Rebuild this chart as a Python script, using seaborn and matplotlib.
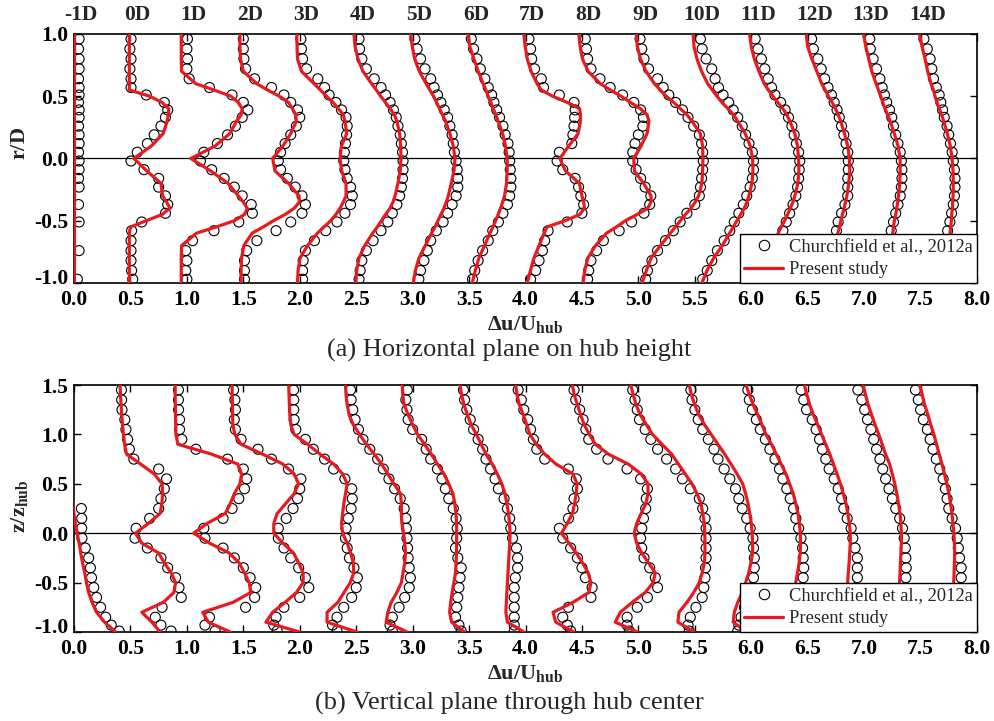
import numpy as np
import pandas as pd
import matplotlib
matplotlib.use("Agg")
import matplotlib.pyplot as plt
import matplotlib.transforms as mtransforms
from matplotlib.lines import Line2D
import seaborn as sns

nan = np.nan

# downstream stations and the plotting offset of each profile
stations = ['-1D', '0D', '1D', '2D', '3D', '4D', '5D', '6D', '7D',
            '8D', '9D', '10D', '11D', '12D', '13D', '14D']
offsets = [0.0, 0.5, 1.0, 1.5, 2.0, 2.5, 3.0, 3.5, 4.0,
           4.5, 5.0, 5.5, 6.0, 6.5, 7.0, 7.5]

# (a) horizontal plane, present study (lines)
a_line_r = [1.0, 0.9, 0.8, 0.7, 0.6, 0.55, 0.5, 0.45, 0.4, 0.35, 0.3, 0.2, 0.1, 0.0,
            -0.1, -0.2, -0.3, -0.35, -0.4, -0.45, -0.5, -0.55, -0.6, -0.7, -0.8, -0.9, -1.0]
a_line_du = [
    [0.0] * 27,
    [-0.01, -0.01, -0.01, -0.01, -0.01, -0.01, 0.17, 0.28, 0.34, 0.335, 0.325, 0.29, 0.185, 0.03,
     0.145, 0.27, 0.285, 0.32, 0.35, 0.28, 0.14, 0.0, -0.01, -0.01, -0.01, -0.01, -0.01],
    [-0.05, -0.05, -0.05, -0.047, 0.08, 0.24, 0.39, 0.455, 0.49, 0.48, 0.44, 0.38, 0.25, 0.035,
     0.21, 0.365, 0.455, 0.5, 0.535, 0.51, 0.42, 0.26, 0.085, -0.047, -0.05, -0.05, -0.05],
    [-0.03, -0.03, -0.025, 0.0, 0.12, 0.215, 0.32, 0.40, 0.435, 0.465, 0.47, 0.42, 0.35, 0.26,
     0.28, 0.40, 0.494, 0.497, 0.45, 0.37, 0.267, 0.176, 0.078, 0.004, -0.016, -0.02, -0.02],
    [-0.027, -0.024, -0.02, 0.015, 0.127, 0.183, 0.236, 0.295, 0.342, 0.386, 0.40, 0.416, 0.369, 0.357,
     0.372, 0.41, 0.41, 0.386, 0.357, 0.32, 0.274, 0.215, 0.156, 0.068, 0.003, -0.015, -0.02],
    [-0.02, -0.01, 0.016, 0.06, 0.137, 0.178, 0.217, 0.26, 0.30, 0.34, 0.36, 0.385, 0.394, 0.397,
     0.39, 0.37, 0.344, 0.326, 0.30, 0.26, 0.223, 0.187, 0.146, 0.075, 0.025, 0.004, -0.005],
    [-0.018, -0.003, 0.018, 0.059, 0.12, 0.153, 0.186, 0.212, 0.239, 0.265, 0.292, 0.33, 0.36, 0.375,
     0.366, 0.342, 0.316, 0.298, 0.277, 0.25, 0.224, 0.198, 0.168, 0.112, 0.056, 0.024, 0.006],
    [-0.01, 0.007, 0.043, 0.081, 0.125, 0.149, 0.17, 0.193, 0.214, 0.237, 0.258, 0.297, 0.323, 0.338,
     0.338, 0.332, 0.314, 0.297, 0.279, 0.258, 0.235, 0.211, 0.185, 0.137, 0.087, 0.055, 0.028],
    [-0.015, -0.003, 0.015, 0.05, 0.103, 0.14, 0.24, 0.37, 0.48, 0.487, 0.487, 0.466, 0.383, 0.304,
     0.354, 0.478, 0.50, 0.516, 0.522, 0.48, 0.35, 0.19, 0.165, 0.12, 0.074, 0.044, 0.015],
    [-0.028, -0.016, 0.004, 0.055, 0.164, 0.252, 0.347, 0.43, 0.518, 0.577, 0.594, 0.577, 0.524, 0.459,
     0.465, 0.547, 0.612, 0.612, 0.583, 0.488, 0.385, 0.305, 0.217, 0.12, 0.052, 0.025, 0.01],
    [-0.018, -0.009, 0.018, 0.068, 0.142, 0.195, 0.245, 0.313, 0.372, 0.431, 0.475, 0.549, 0.569, 0.572,
     0.569, 0.563, 0.534, 0.504, 0.466, 0.416, 0.372, 0.327, 0.283, 0.195, 0.112, 0.071, 0.032],
    [-0.016, -0.007, 0.019, 0.06, 0.114, 0.155, 0.196, 0.24, 0.294, 0.344, 0.379, 0.447, 0.491, 0.512,
     0.515, 0.506, 0.479, 0.462, 0.438, 0.406, 0.373, 0.341, 0.308, 0.243, 0.167, 0.108, 0.063],
    [-0.015, 0.0, 0.027, 0.068, 0.115, 0.153, 0.192, 0.236, 0.28, 0.316, 0.342, 0.386, 0.41, 0.419,
     0.422, 0.413, 0.386, 0.369, 0.345, 0.322, 0.295, 0.265, 0.239, 0.198, 0.162, 0.139, 0.115],
    [-0.013, 0.0, 0.037, 0.081, 0.125, 0.155, 0.184, 0.217, 0.246, 0.27, 0.293, 0.326, 0.355, 0.37,
     0.373, 0.364, 0.347, 0.335, 0.323, 0.308, 0.293, 0.282, 0.267, 0.24, 0.214, 0.193, 0.17],
    [-0.006, 0.015, 0.041, 0.068, 0.106, 0.127, 0.147, 0.165, 0.186, 0.209, 0.23, 0.268, 0.301, 0.319,
     0.319, 0.316, 0.304, 0.298, 0.289, 0.28, 0.268, 0.26, 0.254, 0.236, 0.218, 0.2, 0.186],
    [-0.01, 0.013, 0.04, 0.063, 0.093, 0.114, 0.128, 0.146, 0.167, 0.187, 0.205, 0.237, 0.264, 0.279,
     0.288, 0.29, 0.288, 0.285, 0.282, 0.276, 0.273, 0.267, 0.261, 0.252, 0.24, 0.232, 0.223],
]

# (a) horizontal plane, Churchfield et al. (circles)
a_mark_r = [0.96, 0.88, 0.80, 0.72, 0.64, 0.57, 0.51, 0.45, 0.39, 0.33, 0.26, 0.19, 0.12, 0.05,
            -0.02, -0.09, -0.16, -0.23, -0.30, -0.37, -0.44, -0.51, -0.58, -0.66, -0.74, -0.82, -0.90, -0.97]
a_mark_du = [
    [0.045, 0.04, 0.045, 0.045, 0.04, 0.045, 0.045, 0.04, 0.045, 0.045, 0.04, 0.045, 0.045, 0.04,
     0.045, 0.045, 0.04, 0.045, nan, 0.04, nan, 0.045, nan, nan, 0.045, nan, nan, 0.03],
    [0.005, -0.005, 0.005, -0.005, 0.005, 0.005, 0.14, 0.30, 0.33, 0.31, 0.27, 0.21, 0.15, 0.06,
     0.005, 0.12, 0.25, 0.25, 0.31, 0.33, 0.31, 0.10, 0.01, 0.005, 0.005, 0.005, 0.01, 0.02],
    [0.005, 0.0, 0.005, 0.0, 0.02, 0.2, 0.40, 0.50, 0.54, 0.49, 0.43, 0.36, 0.27, 0.15,
     0.12, 0.22, 0.33, 0.42, 0.49, 0.57, 0.58, 0.46, 0.24, 0.05, -0.01, 0.0, -0.01, 0.0],
    [0.0, 0.0, 0.005, 0.02, 0.10, 0.25, 0.36, 0.42, 0.48, 0.50, 0.47, 0.42, 0.37, 0.33,
     0.31, 0.33, 0.39, 0.46, 0.52, 0.55, 0.52, 0.42, 0.29, 0.12, 0.03, 0.01, 0.01, 0.01],
    [0.01, 0.015, 0.025, 0.06, 0.16, 0.22, 0.26, 0.32, 0.37, 0.41, 0.42, 0.415, 0.405, 0.395,
     0.39, 0.40, 0.42, 0.45, 0.465, 0.45, 0.40, 0.33, 0.23, 0.13, 0.05, 0.03, 0.025, 0.025],
    [0.025, 0.03, 0.05, 0.09, 0.16, 0.22, 0.26, 0.30, 0.33, 0.355, 0.37, 0.39, 0.40, 0.41,
     0.415, 0.415, 0.41, 0.40, 0.385, 0.36, 0.32, 0.28, 0.22, 0.15, 0.09, 0.05, 0.035, 0.025],
    [0.02, 0.04, 0.07, 0.11, 0.16, 0.19, 0.22, 0.25, 0.28, 0.31, 0.33, 0.35, 0.36, 0.37,
     0.385, 0.395, 0.40, 0.40, 0.385, 0.35, 0.31, 0.27, 0.21, 0.16, 0.13, 0.10, 0.07, 0.055],
    [0.02, 0.04, 0.07, 0.10, 0.14, 0.17, 0.20, 0.22, 0.245, 0.27, 0.30, 0.32, 0.345, 0.355,
     0.36, 0.365, 0.37, 0.37, 0.36, 0.34, 0.30, 0.26, 0.21, 0.17, 0.12, 0.08, 0.05, 0.03],
    [0.03, 0.045, 0.055, 0.08, 0.14, 0.16, 0.30, 0.43, 0.44, 0.435, 0.43, 0.42, 0.41, 0.30,
     0.28, 0.33, 0.44, 0.47, 0.49, 0.515, 0.50, 0.37, 0.20, 0.17, 0.15, 0.12, 0.09, 0.045],
    [0.03, 0.04, 0.05, 0.08, 0.16, 0.25, 0.36, 0.46, 0.52, 0.545, 0.54, 0.50, 0.47, 0.45,
     0.45, 0.48, 0.52, 0.56, 0.61, 0.60, 0.55, 0.44, 0.33, 0.19, 0.13, 0.08, 0.06, 0.05],
    [0.015, 0.03, 0.05, 0.09, 0.17, 0.22, 0.27, 0.33, 0.39, 0.44, 0.49, 0.54, 0.56, 0.57,
     0.575, 0.57, 0.56, 0.55, 0.54, 0.50, 0.43, 0.37, 0.31, 0.24, 0.17, 0.12, 0.08, 0.065],
    [0.05, 0.065, 0.10, 0.15, 0.18, 0.21, 0.25, 0.30, 0.34, 0.38, 0.42, 0.45, 0.48, 0.51,
     0.52, 0.52, 0.51, 0.49, 0.46, 0.43, 0.39, 0.35, 0.31, 0.26, 0.20, 0.15, 0.11, 0.07],
    [0.035, 0.06, 0.09, 0.12, 0.15, 0.18, 0.21, 0.26, 0.30, 0.33, 0.36, 0.38, 0.40, 0.42,
     0.43, 0.425, 0.42, 0.41, 0.395, 0.37, 0.34, 0.31, 0.28, 0.25, 0.22, 0.19, 0.17, 0.15],
    [0.035, 0.05, 0.09, 0.12, 0.15, 0.18, 0.21, 0.235, 0.26, 0.28, 0.30, 0.32, 0.34, 0.355,
     0.36, 0.36, 0.355, 0.355, 0.355, 0.33, 0.30, 0.27, 0.255, 0.24, 0.22, 0.20, 0.19, 0.17],
    [0.05, 0.055, 0.08, 0.11, 0.14, 0.16, 0.18, 0.20, 0.225, 0.245, 0.26, 0.28, 0.30, 0.32,
     0.33, 0.335, 0.335, 0.33, 0.32, 0.30, 0.28, 0.26, 0.24, 0.23, 0.21, 0.20, 0.19, 0.18],
    [0.03, 0.06, 0.085, 0.10, 0.115, 0.14, 0.165, 0.18, 0.195, 0.21, 0.235, 0.25, 0.265, 0.28,
     0.29, 0.30, 0.305, 0.305, 0.30, 0.29, 0.275, 0.26, 0.24, 0.23, 0.22, 0.21, 0.20, 0.20],
]

# (b) vertical plane, present study (lines)
b_line_z = [1.5, 1.4, 1.3, 1.2, 1.1, 1.0, 0.9, 0.8, 0.7, 0.6, 0.5, 0.4, 0.3, 0.2, 0.1, 0.0,
            -0.1, -0.2, -0.3, -0.4, -0.5, -0.6, -0.7, -0.8, -0.9, -1.0]
b_line_du = [
    [-0.12, -0.115, -0.11, -0.10, -0.09, -0.08, -0.07, -0.06, -0.05, -0.04, -0.03, -0.02, -0.01, 0.0, 0.012, 0.028,
     0.045, 0.06, 0.075, 0.095, 0.11, 0.13, 0.16, 0.2, 0.27, 0.37],
    [-0.092, -0.088, -0.083, -0.078, -0.07, -0.062, -0.052, -0.035, 0.09, 0.21, 0.28, 0.285, 0.278, 0.263, 0.16, 0.045,
     0.10, 0.25, 0.30, 0.36, 0.40, 0.385, 0.29, 0.10, 0.19, 0.263],
    [-0.104, -0.104, -0.103, -0.101, -0.099, -0.097, -0.08, 0.22, 0.45, 0.485, 0.47, 0.42, 0.385, 0.34, 0.18, 0.06,
     0.2, 0.374, 0.463, 0.51, 0.552, 0.565, 0.408, 0.14, 0.19, 0.384],
    [-0.10, -0.098, -0.096, -0.095, -0.093, -0.075, -0.02, 0.17, 0.35, 0.45, 0.49, 0.45, 0.375, 0.30, 0.27, 0.27,
     0.35, 0.445, 0.49, 0.53, 0.53, 0.47, 0.37, 0.26, 0.20, 0.50],
    [-0.098, -0.095, -0.092, -0.088, -0.08, -0.05, 0.07, 0.18, 0.30, 0.38, 0.42, 0.405, 0.39, 0.38, 0.37, 0.38,
     0.42, 0.45, 0.475, 0.478, 0.447, 0.392, 0.337, 0.242, 0.242, 0.508],
    [-0.095, -0.09, -0.08, -0.063, -0.027, 0.03, 0.09, 0.16, 0.225, 0.28, 0.334, 0.393, 0.40, 0.40, 0.405, 0.42,
     0.43, 0.437, 0.43, 0.415, 0.40, 0.36, 0.31, 0.28, 0.265, 0.452],
    [-0.092, -0.088, -0.075, -0.04, 0.0, 0.044, 0.105, 0.165, 0.22, 0.278, 0.32, 0.357, 0.374, 0.383, 0.39, 0.39,
     0.39, 0.388, 0.385, 0.38, 0.365, 0.35, 0.337, 0.328, 0.345, 0.46],
    [-0.08, -0.066, -0.045, -0.015, 0.018, 0.065, 0.108, 0.15, 0.205, 0.25, 0.29, 0.318, 0.335, 0.35, 0.358, 0.364,
     0.36, 0.355, 0.35, 0.345, 0.34, 0.335, 0.33, 0.326, 0.34, 0.487],
    [-0.087, -0.075, -0.054, -0.02, 0.01, 0.04, 0.095, 0.17, 0.27, 0.42, 0.457, 0.448, 0.435, 0.416, 0.37, 0.318,
     0.385, 0.45, 0.505, 0.555, 0.58, 0.56, 0.42, 0.244, 0.268, 0.43],
    [-0.085, -0.068, -0.04, -0.012, 0.02, 0.065, 0.12, 0.235, 0.41, 0.525, 0.585, 0.585, 0.566, 0.525, 0.485, 0.463,
     0.485, 0.53, 0.59, 0.65, 0.63, 0.56, 0.445, 0.34, 0.295, 0.493],
    [-0.067, -0.045, -0.02, 0.015, 0.07, 0.125, 0.21, 0.295, 0.355, 0.415, 0.475, 0.52, 0.555, 0.57, 0.584, 0.588,
     0.59, 0.59, 0.585, 0.565, 0.54, 0.49, 0.43, 0.36, 0.35, 0.495],
    [-0.049, -0.03, 0.0, 0.035, 0.085, 0.145, 0.205, 0.265, 0.32, 0.375, 0.424, 0.45, 0.472, 0.487, 0.50, 0.508,
     0.512, 0.512, 0.497, 0.478, 0.45, 0.42, 0.38, 0.35, 0.34, 0.46],
    [-0.046, -0.016, 0.018, 0.057, 0.094, 0.13, 0.18, 0.222, 0.265, 0.308, 0.34, 0.372, 0.395, 0.414, 0.426, 0.435,
     0.436, 0.434, 0.424, 0.41, 0.394, 0.375, 0.355, 0.335, 0.32, 0.33],
    [-0.029, -0.007, 0.018, 0.05, 0.088, 0.123, 0.16, 0.196, 0.228, 0.26, 0.29, 0.315, 0.34, 0.355, 0.37, 0.377,
     0.378, 0.372, 0.367, 0.36, 0.354, 0.348, 0.34, 0.33, 0.32, 0.31],
    [-0.011, 0.013, 0.036, 0.066, 0.096, 0.13, 0.16, 0.19, 0.226, 0.25, 0.272, 0.29, 0.305, 0.318, 0.326, 0.33,
     0.33, 0.326, 0.322, 0.318, 0.314, 0.31, 0.305, 0.30, 0.295, 0.29],
    [-0.008, 0.015, 0.036, 0.065, 0.09, 0.118, 0.142, 0.165, 0.19, 0.212, 0.232, 0.252, 0.266, 0.278, 0.287, 0.295,
     0.30, 0.302, 0.30, 0.297, 0.294, 0.29, 0.286, 0.282, 0.278, 0.275],
]

# (b) vertical plane, Churchfield et al. (circles)
b_mark_z = [1.45, 1.35, 1.25, 1.15, 1.05, 0.95, 0.85, 0.75, 0.65, 0.55, 0.45, 0.35, 0.25, 0.15, 0.05,
            -0.05, -0.15, -0.25, -0.35, -0.45, -0.55, -0.65, -0.75, -0.85, -0.93, -0.99]
b_mark_du = [
    [nan, nan, nan, nan, nan, nan, nan, nan, nan, nan, nan, nan, 0.065, 0.068, 0.068,
     0.07, 0.10, 0.13, 0.145, 0.155, 0.175, 0.20, 0.235, 0.28, 0.33, 0.40],
    [-0.08, -0.078, -0.075, -0.05, -0.04, -0.025, -0.01, 0.03, 0.25, 0.32, 0.30, 0.27, 0.25, 0.17, 0.05,
     0.04, 0.15, 0.27, 0.33, 0.40, 0.43, 0.45, 0.28, 0.22, 0.27, 0.36],
    [-0.075, -0.075, -0.074, -0.065, -0.065, -0.045, 0.08, 0.36, 0.50, 0.53, 0.51, 0.46, 0.40, 0.32, 0.15,
     0.16, 0.32, 0.42, 0.50, 0.56, 0.61, 0.60, 0.52, 0.20, 0.16, 0.25],
    [-0.086, -0.075, -0.07, -0.08, -0.07, -0.02, 0.13, 0.25, 0.40, 0.51, 0.50, 0.48, 0.44, 0.38, 0.31,
     0.31, 0.36, 0.42, 0.49, 0.55, 0.58, 0.50, 0.36, 0.29, 0.27, 0.30],
    [-0.055, -0.053, -0.053, -0.05, -0.035, 0.05, 0.12, 0.22, 0.30, 0.40, 0.46, 0.465, 0.455, 0.43, 0.41,
     0.405, 0.42, 0.44, 0.48, 0.51, 0.50, 0.46, 0.39, 0.33, 0.29, 0.33],
    [-0.05, -0.045, -0.03, -0.01, 0.02, 0.06, 0.12, 0.19, 0.24, 0.29, 0.34, 0.39, 0.425, 0.44, 0.445,
     0.45, 0.455, 0.46, 0.47, 0.48, 0.47, 0.43, 0.38, 0.32, 0.30, 0.32],
    [-0.047, -0.06, -0.05, -0.04, 0.0, 0.08, 0.12, 0.16, 0.22, 0.26, 0.29, 0.32, 0.36, 0.385, 0.395,
     0.39, 0.38, 0.40, 0.43, 0.42, 0.41, 0.40, 0.39, 0.38, 0.41, 0.43],
    [-0.05, -0.04, -0.02, 0.01, 0.04, 0.08, 0.12, 0.15, 0.19, 0.23, 0.26, 0.31, 0.34, 0.36, 0.37,
     0.385, 0.42, 0.43, 0.43, 0.41, 0.40, 0.40, 0.40, 0.40, 0.40, 0.40],
    [-0.065, -0.037, -0.015, 0.02, 0.045, 0.07, 0.10, 0.17, 0.38, 0.45, 0.46, 0.43, 0.42, 0.38, 0.30,
     0.33, 0.40, 0.46, 0.50, 0.53, 0.59, 0.58, 0.38, 0.33, 0.37, 0.40],
    [-0.07, -0.055, -0.02, 0.01, 0.035, 0.06, 0.13, 0.23, 0.40, 0.52, 0.58, 0.57, 0.565, 0.545, 0.53,
     0.52, 0.53, 0.55, 0.60, 0.65, 0.67, 0.58, 0.49, 0.40, 0.40, 0.42],
    [-0.05, -0.03, -0.01, 0.01, 0.06, 0.11, 0.17, 0.25, 0.33, 0.39, 0.46, 0.54, 0.57, 0.59, 0.60,
     0.60, 0.60, 0.60, 0.595, 0.59, 0.58, 0.565, 0.51, 0.46, 0.44, 0.45],
    [-0.035, -0.025, 0.0, 0.03, 0.07, 0.12, 0.17, 0.205, 0.26, 0.31, 0.36, 0.39, 0.42, 0.46, 0.49,
     0.515, 0.52, 0.527, 0.527, 0.52, 0.50, 0.47, 0.44, 0.41, 0.39, 0.38],
    [-0.03, -0.017, 0.01, 0.045, 0.08, 0.125, 0.165, 0.21, 0.25, 0.28, 0.315, 0.345, 0.375, 0.395, 0.42,
     0.44, 0.455, 0.46, 0.465, 0.46, 0.45, 0.43, 0.41, 0.39, 0.37, 0.36],
    [-0.058, -0.035, -0.01, 0.04, 0.075, 0.105, 0.13, 0.16, 0.19, 0.235, 0.27, 0.30, 0.32, 0.35, 0.385,
     0.40, 0.42, 0.44, 0.44, 0.44, 0.43, 0.42, 0.41, 0.40, 0.39, 0.38],
    [-0.055, -0.02, 0.005, 0.03, 0.06, 0.085, 0.11, 0.14, 0.165, 0.19, 0.22, 0.25, 0.28, 0.315, 0.34,
     0.355, 0.365, 0.37, 0.373, 0.37, 0.365, 0.36, 0.355, 0.35, 0.345, 0.34],
    [-0.045, -0.02, 0.0, 0.025, 0.06, 0.085, 0.11, 0.14, 0.17, 0.20, 0.22, 0.235, 0.25, 0.28, 0.31,
     0.325, 0.335, 0.345, 0.36, 0.36, 0.355, 0.35, 0.345, 0.34, 0.335, 0.33],
]

x_ticks = [0.0, 0.5, 1.0, 1.5, 2.0, 2.5, 3.0, 3.5, 4.0, 4.5, 5.0, 5.5, 6.0, 6.5, 7.0, 7.5, 8.0]
legend_labels = ['Churchfield et al., 2012a', 'Present study']

RED = '#e51b20'


def long_table(levels, deficits):
    """Stack the per-station profiles into one long frame (x = offset + deficit)."""
    rows = []
    for name, off, dus in zip(stations, offsets, deficits):
        for lev, du in zip(levels, dus):
            rows.append({'station': name, 'level': lev, 'x': off + du})
    return pd.DataFrame(rows).dropna()


def draw_panel(fig, ax, line_df, mark_df, yticks, ylabel, label_y):
    ax.axhline(0.0, color='black', lw=0.9, zorder=1)
    sns.scatterplot(data=mark_df, x='x', y='level', ax=ax, marker='o', s=52,
                    fc='none', ec='black', linewidth=0.8, legend=False, zorder=2)
    sns.lineplot(data=line_df, x='x', y='level', units='station', estimator=None,
                 sort=False, color=RED, linewidth=2.3, ax=ax, legend=False, zorder=3)

    ax.set_xlim(0, 8)
    ax.set_ylim(yticks[0], yticks[-1])
    ax.set_xticks(x_ticks)
    ax.set_xticklabels([f'{t:.1f}' for t in x_ticks], fontweight='bold')
    ax.set_yticks(yticks)
    ax.set_yticklabels([f'{t:.1f}' for t in yticks], fontweight='bold')
    ax.tick_params(direction='in', length=5, width=1, top=True, right=True,
                   labelsize=15.5, colors='black')
    ax.tick_params(axis='x', pad=5)
    ax.tick_params(axis='y', pad=4)
    # lift the bottom y label a little so it clears the first x label
    low = ax.get_yticklabels()[0]
    low.set_transform(low.get_transform()
                      + mtransforms.ScaledTranslation(0, 5 / 72, fig.dpi_scale_trans))
    for sp in ax.spines.values():
        sp.set_linewidth(1.2)
        sp.set_color('black')

    ax.set_xlabel(r'$\mathbf{\Delta u/U_{hub}}$', fontsize=16)
    ax.xaxis.set_label_coords(0.5, -0.125)
    ax.set_ylabel(ylabel, fontsize=16)
    ax.yaxis.set_label_coords(-0.049, label_y)

    handles = [Line2D([], [], marker='o', ls='none', mfc='none', mec='black', ms=7.5, mew=0.8),
               Line2D([], [], color=RED, lw=2.3)]
    leg = ax.legend(handles, legend_labels, loc='lower right', borderaxespad=0,
                    fancybox=False, edgecolor='black', framealpha=1, fontsize=13.3,
                    handlelength=2.1, handletextpad=0.3, labelspacing=0.3,
                    borderpad=0.25)
    leg.get_frame().set_linewidth(1.0)
    leg.set_zorder(10)


sns.set_theme(style='ticks')
plt.rcParams['font.family'] = ['Liberation Serif', 'DejaVu Serif']
plt.rcParams['mathtext.fontset'] = 'custom'
plt.rcParams['mathtext.rm'] = 'Liberation Serif'
plt.rcParams['mathtext.it'] = 'Liberation Serif:italic'
plt.rcParams['mathtext.bf'] = 'Liberation Serif:bold'
plt.rcParams['axes.unicode_minus'] = False

fig = plt.figure(figsize=(9.95, 7.21), dpi=100)
ax_a = fig.add_axes([0.0744, 0.6075, 0.9075, 0.3454])
ax_b = fig.add_axes([0.0744, 0.1234, 0.9075, 0.3426])

draw_panel(fig, ax_a, long_table(a_line_r, a_line_du), long_table(a_mark_r, a_mark_du),
           [-1.0, -0.5, 0.0, 0.5, 1.0], r'$\mathbf{r/D}$', 0.56)
draw_panel(fig, ax_b, long_table(b_line_z, b_line_du), long_table(b_mark_z, b_mark_du),
           [-1.0, -0.5, 0.0, 0.5, 1.0, 1.5], r'$\mathbf{z/z_{hub}}$', 0.51)

# station names above the top panel
trans = mtransforms.blended_transform_factory(ax_a.transData, ax_a.transAxes)
for name, off in zip(stations, offsets):
    ax_a.text(off + 0.06, 1.075, name, transform=trans, ha='center', va='center',
              fontsize=15.5, fontweight='bold')

fig.text(0.512, 1 - 350 / 721, '(a) Horizontal plane on hub height',
         ha='center', va='center', fontsize=19)
fig.text(0.512, 1 - 703 / 721, '(b) Vertical plane through hub center',
         ha='center', va='center', fontsize=19)

fig.savefig('out.png', dpi=100)
